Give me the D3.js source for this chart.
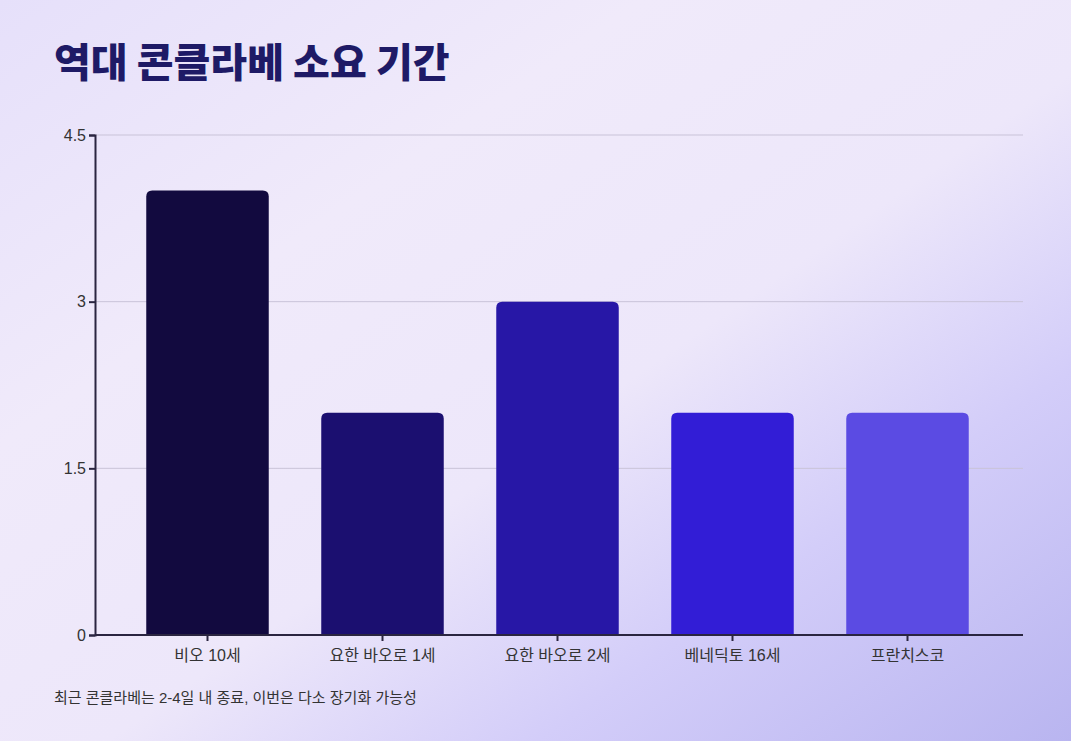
<!DOCTYPE html>
<html><head><meta charset="utf-8">
<script src="https://cdn.jsdelivr.net/npm/d3@7/dist/d3.min.js"></script>
<style>body{margin:0;}svg{display:block;font-family:"Noto Sans CJK KR","Noto Sans",sans-serif;}</style>
</head><body>
<script>
const categories=["비오 10세","요한 바오로 1세","요한 바오로 2세","베네딕토 16세","프란치스코"];
const values=[4,2,3,2,2];
const colors=["#120a3f","#1b0f70","#2717a6","#321dd6","#5b4be3"];
const yTicks=[0,1.5,3,4.5];
const W=1071,H=741;
const svg=d3.select("body").append("svg").attr("width",W).attr("height",H);
const defs=svg.append("defs");
const g1=defs.append("linearGradient").attr("id","bg").attr("x1","0").attr("y1","0").attr("x2","1").attr("y2","1");
g1.append("stop").attr("offset","0").attr("stop-color","#e6e0fa");
g1.append("stop").attr("offset","0.3").attr("stop-color","#f0eafa");
g1.append("stop").attr("offset","0.55").attr("stop-color","#ede7fa");
g1.append("stop").attr("offset","0.75").attr("stop-color","#d3cdf9");
g1.append("stop").attr("offset","1").attr("stop-color","#b9b5f0");
svg.append("rect").attr("width",W).attr("height",H).attr("fill","url(#bg)");
const x=d3.scaleBand().domain(categories).range([120,995]).paddingInner(0.3).paddingOuter(0.15);
const y=d3.scaleLinear().domain([0,4.5]).range([635,135]);
svg.append("g").selectAll("line").data(yTicks.slice(1)).join("line")
 .attr("x1",95).attr("x2",1023).attr("y1",d=>y(d)).attr("y2",d=>y(d)).attr("stroke","#c9c3d8").attr("stroke-width",1);
const r=6;
svg.append("g").selectAll("path").data(values).join("path")
 .attr("fill",(d,i)=>colors[i])
 .attr("d",(d,i)=>{const x0=x(categories[i]),w=x.bandwidth(),y0=y(d),y1=y(0);
  return `M${x0},${y1}V${y0+r}Q${x0},${y0} ${x0+r},${y0}H${x0+w-r}Q${x0+w},${y0} ${x0+w},${y0+r}V${y1}Z`;});
const ya=svg.append("g").attr("transform","translate(95,0)").call(d3.axisLeft(y).tickValues(yTicks).tickSize(6).tickFormat(d3.format("~g")));
ya.select(".domain").attr("stroke","#2a2540").attr("stroke-width",2);
ya.selectAll(".tick line").attr("stroke","#2a2540").attr("stroke-width",2);
ya.selectAll("text").attr("font-size",16).attr("fill","#333").attr("font-family","Liberation Sans, sans-serif");
const xa=svg.append("g").attr("transform","translate(0,635)").call(d3.axisBottom(x).tickSize(6));
xa.select(".domain").attr("d","M95,0H1023").attr("stroke","#2a2540").attr("stroke-width",2);
xa.selectAll(".tick line").attr("stroke","#2a2540").attr("stroke-width",2);
xa.selectAll("text").attr("font-size",16).attr("fill","#333").attr("dy","1.05em").attr("font-family","Liberation Sans, Noto Sans CJK KR");
svg.append("text").attr("x",54).attr("y",77).attr("font-size",40).attr("font-weight",900).attr("fill","#1e1a66").text("역대 콘클라베 소요 기간");
svg.append("text").attr("x",54).attr("y",703).attr("font-size",15).attr("fill","#333").attr("font-family","Liberation Sans, Noto Sans CJK KR").text("최근 콘클라베는 2-4일 내 종료, 이번은 다소 장기화 가능성");
</script></body></html>
